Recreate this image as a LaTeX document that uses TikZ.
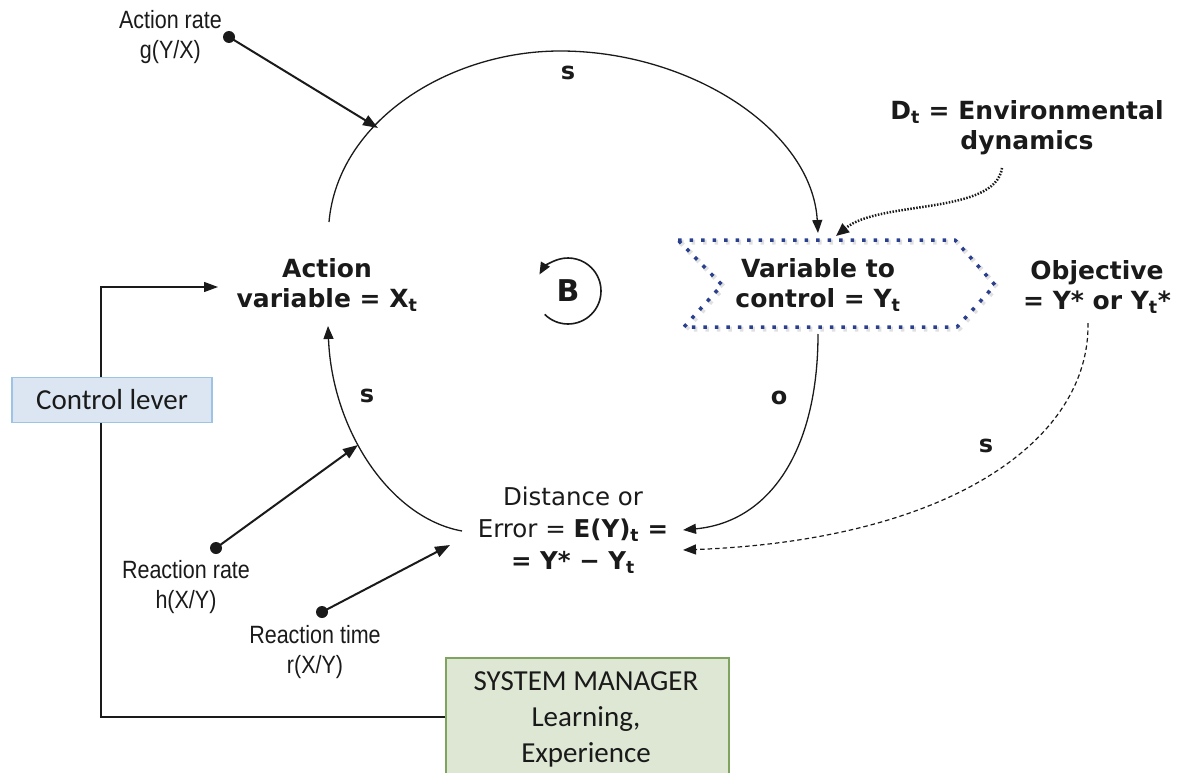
\documentclass[tikz,border=0pt]{standalone}
\usepackage{fontspec}
\setmainfont{DejaVu Sans}
\newfontfamily\calfont{Carlito}
\newfontfamily\narrowfont[FakeStretch=0.86]{Liberation Sans}
\usetikzlibrary{arrows.meta}

\definecolor{ink}{HTML}{1A1A1A}
\definecolor{chevblue}{HTML}{2B3F8F}
\definecolor{leverfill}{HTML}{DCE6F2}
\definecolor{leverline}{HTML}{9DC3E6}
\definecolor{mgrfill}{HTML}{DDE7D4}
\definecolor{mgrline}{HTML}{7FA45F}

\tikzset{
  boldtxt/.style={font=\fontsize{25pt}{30pt}\selectfont\bfseries, text=ink, align=center, inner sep=2pt},
  regtxt/.style={font=\fontsize{24.5pt}{32pt}\selectfont, text=ink, align=center, inner sep=2pt},
  ratetxt/.style={font=\narrowfont\fontsize{25pt}{30pt}\selectfont, text=ink, align=center, inner sep=1pt},
  calbox/.style={font=\calfont\fontsize{29pt}{36pt}\selectfont, text=ink, align=center},
  loop/.style={draw=ink, line width=1.3pt, -{Triangle[length=13pt,width=10pt]}},
  rate/.style={draw=ink, line width=2pt, -{Triangle[length=15pt,width=11pt]}},
  ratedot/.style={circle, fill=ink, inner sep=0pt, minimum size=12pt},
  polarity/.style={font=\fontsize{24pt}{24pt}\selectfont\bfseries, text=ink},
  chevron/.style={draw=chevblue, line width=3.5pt, dash pattern=on 3.5pt off 8pt, line join=round},
}

\begin{document}
\begin{tikzpicture}[x=1pt, y=-1pt]
\useasboundingbox (0,0) rectangle (1180,773);

% --- variable nodes ---
\node[boldtxt] (act) at (327,285) {Action\\variable = X\textsubscript{t}};
\node[boldtxt] (var) at (818,285) {Variable to\\control = Y\textsubscript{t}};
\node[boldtxt] (obj) at (1097,287) {Objective\\= Y* or Y\textsubscript{t}*};
\node[boldtxt] (env) at (1027,128) {D\textsubscript{t} = Environmental\\dynamics};
\node[regtxt] (err) at (573,530) {Distance or\\Error = \textbf{E(Y)\textsubscript{t} =}\\\textbf{= Y* − Y\textsubscript{t}}};

% --- chevron frame round the controlled variable, with a soft shadow ---
\draw[chevron, draw=black, opacity=0.12, line width=5pt, shift={(2,2)}]
  (678,240) -- (955,240) -- (995,285) -- (957,327) -- (684,327) -- (722,285) -- cycle;
\draw[chevron] (678,240) -- (955,240) -- (995,285) -- (957,327) -- (684,327) -- (722,285) -- cycle;

% --- loop end points ---
\coordinate (actTop) at (329,222);
\coordinate (varTop) at (818,233);
\coordinate (varBot) at (818,334);
\coordinate (errIn)  at (683,530);
\coordinate (errIn2) at (683,550);
\coordinate (errOut) at (462,531);
\coordinate (actBot) at (328,326);
\coordinate (objBot) at (1088,323);
\coordinate (envOut) at (1002,168);
\coordinate (varTop2) at (836,236);

% --- balancing loop ---
\draw[loop] (actTop) .. controls (338,120) and (450,51) .. (560,51)
                     .. controls (690,51) and (812,130) .. (varTop);
\draw[loop] (varBot) .. controls (818,450) and (770,522) .. (errIn);
\draw[loop] (errOut) .. controls (390,518) and (332,430) .. (actBot);
\draw[loop, dashed, dash pattern=on 4.5pt off 3pt, line width=1.2pt]
  (objBot) .. controls (1090,440) and (950,540) .. (errIn2);
\draw[loop, line width=2.5pt, dash pattern=on 1.5pt off 1.5pt, -{Triangle[length=13pt,width=11pt]}]
  (envOut) .. controls (995,215) and (880,200) .. (varTop2);

% --- polarity labels ---
\node[polarity] (s1) at (568,73) {s};
\node[polarity] (o1) at (779,398) {o};
\node[polarity] (s2) at (367,396) {s};
\node[polarity] (s3) at (986,446) {s};

% --- loop marker ---
\node[font=\fontsize{30pt}{30pt}\selectfont\bfseries, text=ink] (bal) at (568,291) {B};
\draw[draw=ink, line width=1.6pt, -{Triangle[length=12pt,width=10pt]}]
  (bal.center) ++(135:33) arc[start angle=135, end angle=-150, radius=33];

% --- rates ---
\node[ratedot] (gdot) at (229,37) {};
\node[ratetxt, anchor=east] (gtxt) at (223,37) {Action rate\\g(Y/X)};
\coordinate (gHit) at (378,128);
\draw[rate] (gdot.center) -- (gHit);

\node[ratedot] (hdot) at (216,548) {};
\node[ratetxt] (htxt) at (186,587) {Reaction rate\\h(X/Y)};
\coordinate (hHit) at (358,445);
\draw[rate] (hdot.center) -- (hHit);

\node[ratedot] (rdot) at (322,612) {};
\node[ratetxt] (rtxt) at (315,652) {Reaction time\\r(X/Y)};
\coordinate (rHit) at (450,545);
\draw[rate] (rdot.center) -- (rHit);

% --- manager and control lever ---
\node[draw=mgrline, fill=mgrfill, line width=1.5pt, anchor=north west,
      minimum width=283pt, minimum height=140pt] (mgr) at (445,657) {};
\node[calbox] (mgrtxt) at (586,719) {SYSTEM MANAGER\\Learning,\\Experience};
\coordinate (leverIn) at (218,287);
\coordinate (leverBend) at (101,717);
\draw[draw=ink, line width=1.3pt, -{Triangle[length=14pt,width=10pt]}]
  (mgr.west |- leverBend) -- (leverBend) |- (leverIn);
\node[calbox, draw=leverline, fill=leverfill, line width=1.5pt,
      minimum width=200pt, minimum height=45pt] (lever) at (112,400) {Control lever};
\end{tikzpicture}
\end{document}
